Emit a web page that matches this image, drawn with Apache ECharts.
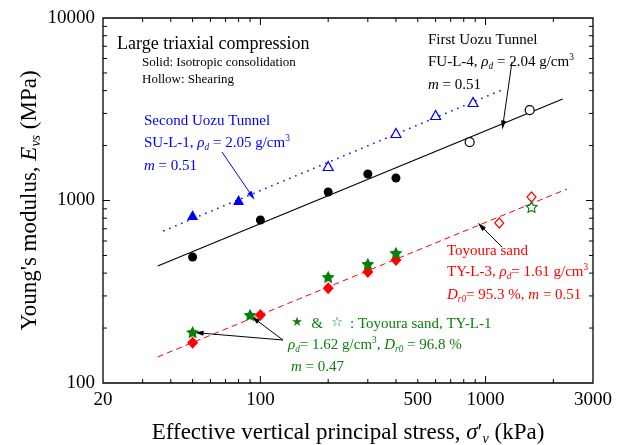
<!DOCTYPE html>
<html>
<head>
<meta charset="utf-8">
<script src="https://cdn.jsdelivr.net/npm/echarts@6/dist/echarts.min.js"></script>
<style>
  html, body { margin: 0; padding: 0; background: #fff; }
  #chart { width: 624px; height: 445px; }
</style>
</head>
<body>
<div id="chart"></div>
<script>
// First Uozu Tunnel FU-L-4
const fuSolidX = [50, 100, 200, 300, 400]
const fuSolidY = [490, 782, 1113, 1397, 1328]
const fuHollowX = [850, 1570]
const fuHollowY = [2090, 3130]
const fuFitX = [35, 2200]
const fuFitY = [438, 3600]

// Second Uozu Tunnel SU-L-1
const suSolidX = [50, 80]
const suSolidY = [833, 1006]
const suHollowX = [200, 400, 600, 880]
const suHollowY = [1545, 2344, 2940, 3467]
const suFitX = [37, 1180]
const suFitY = [680, 4030]

// Toyoura sand TY-L-3
const ty3SolidX = [50, 100, 200, 300, 400]
const ty3SolidY = [166, 236, 331, 406, 472]
const ty3HollowX = [1150, 1600]
const ty3HollowY = [753, 1045]
const tyFitX = [35, 2300]
const tyFitY = [139, 1156]

// Toyoura sand TY-L-1
const ty1SolidX = [50, 90, 200, 300, 400]
const ty1SolidY = [190, 236, 381, 449, 516]
const ty1HollowX = [1600]
const ty1HollowY = [922]

// ticks
const xLabels = [20, 100, 500, 1000, 3000]
const xMinor = [30, 40, 50, 60, 70, 80, 90, 200, 300, 400, 500, 600, 700, 800, 900, 2000]
const xMajor = [100, 1000]
const yLabels = [100, 1000, 10000]
const yMinor = [200, 300, 400, 500, 600, 700, 800, 900, 2000, 3000, 4000, 5000, 6000, 7000, 8000, 9000]
const yMajor = [1000]

// annotation arrows [fromX, fromY, toX, toY]
const arrowBlue = [[67.5, 1844, 91.8, 1059]]
const arrowBlack = [
  [1310, 5740, 1194, 2593],
  [1183, 556, 954, 725],
  [126, 172, 53.4, 188],
  [126, 172, 94.6, 224],
]

const FONT = 'Liberation Serif'
const BLUE = '#0000ff'
const RED = '#ff0000'
const GREEN = '#0a800a'
const STAR = 'path://M0,-10L2.94,-4.05L9.51,-3.09L4.76,1.55L5.88,8.09L0,5L-5.88,8.09L-4.76,1.55L-9.51,-3.09L-2.94,-4.05Z'
const X_MIN = 20, X_MAX = 3000, Y_MIN = 100, Y_MAX = 10000

const zip = (xs, ys) => xs.map((x, i) => [x, ys[i]])

// inward ticks on both sides of the frame, placed by the log axes
function tickSeries(values, dir, len) {
  const seg = (p, dx, dy) => ({
    type: 'line',
    shape: { x1: p[0], y1: p[1], x2: p[0] + dx, y2: p[1] + dy },
    style: { stroke: '#000', lineWidth: 1 },
  })
  return {
    type: 'custom', silent: true, clip: false, z: 1,
    data: values.map(v => dir === 'x' ? [v, Y_MIN] : [X_MIN, v]),
    renderItem: (params, api) => {
      if (dir === 'x') {
        const v = api.value(0)
        const b = api.coord([v, Y_MIN]), t = api.coord([v, Y_MAX])
        return { type: 'group', children: [seg(b, 0, -len), seg(t, 0, len)] }
      }
      const v = api.value(1)
      const l = api.coord([X_MIN, v]), r = api.coord([X_MAX, v])
      return { type: 'group', children: [seg(l, len, 0), seg(r, -len, 0)] }
    },
  }
}

function rich(color, size) {
  const base = { fill: color, fontSize: size, fontFamily: FONT, lineHeight: size + 3, verticalAlign: 'middle' }
  return {
    n: base,
    i: Object.assign({}, base, { fontStyle: 'italic' }),
    sub: { fill: color, fontSize: size * 0.62, fontFamily: FONT, fontStyle: 'italic', verticalAlign: 'bottom' },
    sup: { fill: color, fontSize: size * 0.62, fontFamily: FONT, verticalAlign: 'top' },
  }
}

function txt(x, y, text, color, size) {
  return {
    type: 'text', x, y, silent: true,
    style: { text, fill: color, fontSize: size, fontFamily: FONT, verticalAlign: 'middle', rich: rich(color, size) },
  }
}

function glyph(x, y, text, size, family) {
  return {
    type: 'text', x, y, silent: true,
    style: { text, fill: GREEN, fontSize: size, fontFamily: family, align: 'center', verticalAlign: 'middle' },
  }
}

function scatter(data, symbol, size, color, hollow) {
  return {
    type: 'scatter', data, symbol, symbolSize: size, symbolKeepAspect: true, silent: true,
    itemStyle: hollow
      ? { color: '#fff', borderColor: color, borderWidth: 1.2, opacity: 1 }
      : { color, borderWidth: 0, opacity: 1 },
    z: 5,
  }
}

function arrowLines(list, color) {
  return {
    silent: true, symbol: ['none', 'triangle'], symbolSize: [5, 9],
    label: { show: false },
    lineStyle: { type: 'solid', color, width: 1 },
    itemStyle: { color },
    emphasis: { disabled: true },
    data: list.map(a => [{ coord: [a[0], a[1]] }, { coord: [a[2], a[3]] }]),
  }
}

const nameRich = {
  t: { fontSize: 23, fontFamily: FONT, color: '#000', lineHeight: 27 },
  i: { fontSize: 23, fontFamily: FONT, color: '#000', fontStyle: 'italic', lineHeight: 27 },
  s: { fontSize: 14, fontFamily: FONT, color: '#000', fontStyle: 'italic', verticalAlign: 'bottom' },
}

const chart = echarts.init(document.getElementById('chart'))

chart.setOption({
  animation: false,
  backgroundColor: '#fff',
  grid: {
    left: 103, right: 31, top: 18, bottom: 62,
    outerBoundsMode: 'none',
    show: true, borderColor: '#000', borderWidth: 1.3, backgroundColor: 'transparent',
  },
  xAxis: {
    type: 'log', logBase: 10, min: X_MIN, max: X_MAX,
    splitLine: { show: false },
    axisLine: { show: false },
    axisTick: { show: false },
    axisLabel: {
      customValues: xLabels, formatter: v => String(v),
      color: '#000', fontSize: 19, fontFamily: FONT, margin: 8,
    },
    name: '{t|Effective vertical principal stress, }{i|σ}{t|′}{s|v}{t| (kPa)}',
    nameLocation: 'middle', nameGap: 36, nameMoveOverlap: false,
    nameTextStyle: { rich: nameRich },
  },
  yAxis: {
    type: 'log', logBase: 10, min: Y_MIN, max: Y_MAX,
    splitLine: { show: false },
    axisLine: { show: false },
    axisTick: { show: false },
    axisLabel: {
      customValues: yLabels, formatter: v => String(v),
      color: '#000', fontSize: 19, fontFamily: FONT, margin: 8,
    },
    name: '{t|Young\'s modulus, }{i|E}{s|vs}{t| (MPa)}',
    nameLocation: 'middle', nameGap: 60, nameMoveOverlap: false,
    nameTextStyle: { rich: nameRich },
  },
  series: [
    tickSeries(xMinor, 'x', 4),
    tickSeries(xMajor, 'x', 7),
    tickSeries(yMinor, 'y', 4),
    tickSeries(yMajor, 'y', 7),
    {
      type: 'line', data: zip(fuFitX, fuFitY), symbol: 'none', silent: true,
      lineStyle: { color: '#000', width: 1.2 }, z: 2,
      markLine: arrowLines(arrowBlack, '#000'),
    },
    {
      type: 'line', data: zip(suFitX, suFitY), symbol: 'none', silent: true,
      lineStyle: { color: BLUE, width: 1.5, type: [1.5, 5] }, z: 2,
      markLine: arrowLines(arrowBlue, BLUE),
    },
    {
      type: 'line', data: zip(tyFitX, tyFitY), symbol: 'none', silent: true,
      lineStyle: { color: RED, width: 1, type: [6, 4] }, z: 2,
    },
    scatter(zip(fuSolidX, fuSolidY), 'circle', 9, '#000', false),
    scatter(zip(fuHollowX, fuHollowY), 'circle', 9, '#000', true),
    scatter(zip(suSolidX, suSolidY), 'triangle', [11, 10], BLUE, false),
    scatter(zip(suHollowX, suHollowY), 'triangle', [10, 9], BLUE, true),
    scatter(zip(ty3SolidX, ty3SolidY), 'diamond', [11, 12], RED, false),
    scatter(zip(ty3HollowX, ty3HollowY), 'diamond', [9, 10], RED, true),
    scatter(zip(ty1SolidX, ty1SolidY), STAR, 13, GREEN, false),
    scatter(zip(ty1HollowX, ty1HollowY), STAR, 11, GREEN, true),
  ],
  graphic: [
    txt(117, 44, '{n|Large triaxial compression}', '#000', 18),
    txt(142, 63, '{n|Solid: Isotropic consolidation}', '#000', 13),
    txt(142, 80, '{n|Hollow: Shearing}', '#000', 13),

    txt(144, 121, '{n|Second Uozu Tunnel}', BLUE, 15),
    txt(144, 143, '{n|SU-L-1, }{i|ρ}{sub|d}{n| = 2.05 g/cm}{sup|3}', BLUE, 15),
    txt(144, 166, '{i|m}{n| = 0.51}', BLUE, 15),

    txt(428, 40, '{n|First Uozu Tunnel}', '#000', 15),
    txt(428, 62, '{n|FU-L-4, }{i|ρ}{sub|d}{n| = 2.04 g/cm}{sup|3}', '#000', 15),
    txt(428, 85, '{i|m}{n| = 0.51}', '#000', 15),

    txt(447, 251, '{n|Toyoura sand}', RED, 15),
    txt(447, 272, '{n|TY-L-3, }{i|ρ}{sub|d}{n|= 1.61 g/cm}{sup|3}', RED, 15),
    txt(447, 295, '{i|D}{sub|r0}{n|= 95.3 %, }{i|m}{n| = 0.51}', RED, 15),

    glyph(297, 323, '★', 13, 'DejaVu Sans'),
    glyph(317, 324, '&', 15, FONT),
    glyph(337, 323, '☆', 13, 'DejaVu Sans'),
    txt(350, 324, '{n|: Toyoura sand, TY-L-1}', GREEN, 15),
    txt(288, 345, '{i|ρ}{sub|d}{n|= 1.62 g/cm}{sup|3}{n|, }{i|D}{sub|r0}{n| = 96.8 %}', GREEN, 15),
    txt(291, 367, '{i|m}{n| = 0.47}', GREEN, 15),
  ],
})
</script>
</body>
</html>
